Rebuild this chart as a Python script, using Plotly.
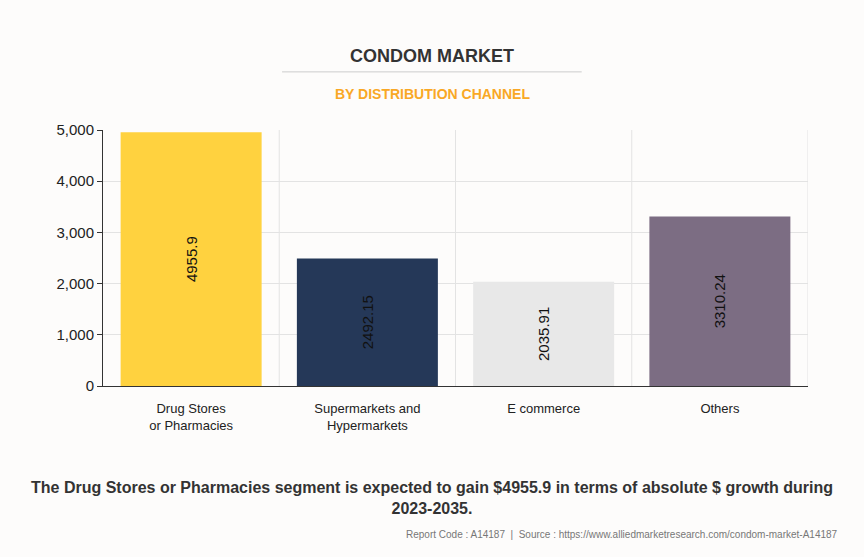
import plotly.graph_objects as go

categories = ["Drug Stores<br>or Pharmacies", "Supermarkets and<br>Hypermarkets", "E commerce", "Others"]
values = [4955.9, 2492.15, 2035.91, 3310.24]
colors = ["#FFD23F", "#253858", "#E8E8E8", "#7C6D83"]
labels = ["4955.9", "2492.15", "2035.91", "3310.24"]

fig = go.Figure()
fig.add_trace(go.Bar(
    x=list(range(len(categories))), y=values,
    marker=dict(color=colors, line=dict(width=0)),
    width=0.8,
    text=labels, textposition="inside", insidetextanchor="middle",
    textangle=-90, textfont=dict(family="Liberation Sans, Arial", size=15, color="#111"),
    hoverinfo="skip",
))

shapes = []
for i in range(len(categories)):
    shapes.append(dict(type="line", xref="x", yref="paper", x0=i + 0.5, x1=i + 0.5, y0=0, y1=1,
                       line=dict(color="#E3E3E3", width=1), layer="below"))
shapes.append(dict(type="line", xref="paper", yref="paper", x0=0.254, x1=0.679, y0=1.227, y1=1.227,
                   line=dict(color="#CCCCCC", width=1)))

fig.update_layout(
    width=864, height=557,
    paper_bgcolor="#FDFCFB", plot_bgcolor="#FDFCFB",
    margin=dict(l=103, r=56, t=130, b=171),
    showlegend=False,
    bargap=0.2,
    shapes=shapes,
    font=dict(family="Liberation Sans, Arial", color="#222"),
    xaxis=dict(
        tickmode="array", tickvals=list(range(len(categories))), ticktext=categories,
        range=[-0.5, len(categories) - 0.5],
        showline=True, linecolor="#333", linewidth=1, showgrid=False,
        ticks="", tickfont=dict(size=13, color="#222"), ticklabelstandoff=10,
    ),
    yaxis=dict(
        range=[0, 5000], tickvals=[0, 1000, 2000, 3000, 4000, 5000],
        tickformat=",d", showline=True, linecolor="#333", linewidth=1,
        ticks="outside", ticklen=5, tickcolor="#333",
        gridcolor="#E3E3E3", tickfont=dict(size=15, color="#222"),
        zeroline=False,
    ),
    annotations=[
        dict(text="<b>CONDOM MARKET</b>", xref="paper", yref="paper", x=0.467, y=1.289,
             xanchor="center", yanchor="middle", showarrow=False,
             font=dict(size=18, color="#333", family="Liberation Sans, Arial")),
        dict(text="<b>BY DISTRIBUTION CHANNEL</b>", xref="paper", yref="paper", x=0.467, y=1.141,
             xanchor="center", yanchor="middle", showarrow=False,
             font=dict(size=14, color="#F9A825", family="Liberation Sans, Arial")),
        dict(text="<b>The Drug Stores or Pharmacies segment is expected to gain $4955.9 in terms of absolute $ growth during<br>2023-2035.</b>",
             xref="paper", yref="paper", x=0.467, y=-0.436, xanchor="center", yanchor="middle",
             showarrow=False, align="center",
             font=dict(size=16, color="#333", family="Liberation Sans, Arial")),
        dict(text="Report Code : A14187  |  Source : https://www.alliedmarketresearch.com/condom-market-A14187",
             xref="paper", yref="paper", x=1.045, y=-0.582, xanchor="right", yanchor="middle",
             showarrow=False, font=dict(size=10, color="#777", family="Liberation Sans, Arial")),
    ],
)

fig.write_html("out.html", config={"displayModeBar": False},
               post_script="document.body.style.margin='0px';document.body.style.background='#FDFCFB';")
